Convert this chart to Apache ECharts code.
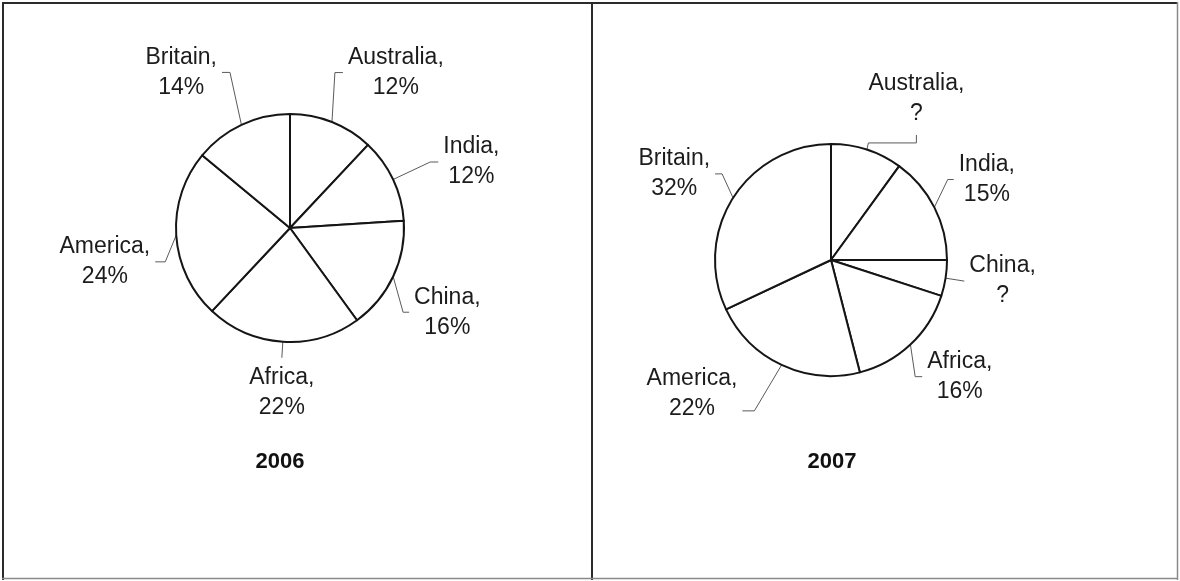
<!DOCTYPE html>
<html>
<head>
<meta charset="utf-8">
<script src="https://cdn.jsdelivr.net/npm/echarts@6.0.0/dist/echarts.min.js"></script>
<style>
html,body{margin:0;padding:0;background:#fff;}
#chart{width:1180px;height:581px;}
</style>
</head>
<body>
<div id="chart"></div>
<script>
// ---- data ----
const categories = ['Australia', 'India', 'China', 'Africa', 'America', 'Britain'];
const values2006 = [12, 12, 16, 22, 24, 14];
// Australia and China are unknown ("?") in the source; sizes
const values2007 = [10, 15, 5, 16, 22, 32];
const shown2007 = ['?', '15%', '?', '16%', '22%', '32%'];
const years = ['2006', '2007'];

// ---- leader-line styling (per category, same order) ----
const leader2006 = [
  { len: 8,  len2: 8,  drop: -42 },
  { len: 41, len2: 8,  drop: 0 },
  { len: 11, len2: 6,  drop: 31 },
  { len: 16, len2: 0,  drop: 0, mode: 'below' },
  { len: 11, len2: 10, drop: 26 },
  { len: 27, len2: 8,  drop: -28 }
];
const leader2007 = [
  { len: 5,  len2: 48, drop: -2, mode: 'above' },
  { len: 15, len2: 6,  drop: -21 },
  { len: 19, len2: 0,  drop: 0 },
  { len: 7,  len2: 7,  drop: 27 },
  { len: 64, len2: 12, drop: -12, ly: -17 },
  { len: 13, len2: 7,  drop: -17 }
];

const FONT = "'Liberation Sans', Arial, Helvetica, sans-serif";
const TEXT_GAP = 5;

function makeLayout(tweaks) {
  return function (p) {
    const t = tweaks[p.dataIndex] || {};
    const pts = p.labelLinePoints;
    if (!pts || pts.length < 3) return {};
    const e = pts[0], m = pts[1], n = pts[2];
    const d = t.drop || 0;
    const m2 = [m[0], m[1] + d];
    const n2 = [n[0], n[1] + d];
    if (t.mode === 'below') {
      return { x: m2[0], y: m2[1] + 5, align: 'center', verticalAlign: 'top', labelLinePoints: [e, m2] };
    }
    if (t.mode === 'above') {
      const s = [n2[0], n2[1] - 8];
      return { x: s[0], y: s[1] - 6, align: 'center', verticalAlign: 'bottom', labelLinePoints: [e, m2, n2, s] };
    }
    const onLeft = p.align === 'right';
    const half = p.labelRect.width / 2;
    const x = onLeft ? n2[0] - TEXT_GAP - half : n2[0] + TEXT_GAP + half;
    return { x: x, y: n2[1] + (t.ly || 0), align: 'center', verticalAlign: 'middle', labelLinePoints: [e, m2, n2] };
  };
}

function pieSeries(center, radius, values, tweaks, formatter) {
  return {
    type: 'pie',
    center: center,
    radius: radius,
    startAngle: 90,
    clockwise: true,
    avoidLabelOverlap: false,
    silent: true,
    animation: false,
    itemStyle: { color: '#ffffff', borderColor: '#151515', borderWidth: 2 },
    emphasis: { disabled: true },
    label: {
      show: true,
      position: 'outside',
      formatter: formatter,
      fontFamily: FONT,
      fontSize: 23,
      lineHeight: 30,
      color: '#1c1c1c'
    },
    labelLine: {
      show: true,
      smooth: false,
      lineStyle: { color: '#5a5a5a', width: 1 }
    },
    labelLayout: makeLayout(tweaks),
    data: categories.map(function (c, i) {
      return {
        name: c,
        value: values[i],
        labelLine: { length: tweaks[i].len, length2: tweaks[i].len2 }
      };
    })
  };
}

const chart = echarts.init(document.getElementById('chart'), null, { renderer: 'canvas' });

const option = {
  backgroundColor: '#ffffff',
  animation: false,
  series: [
    pieSeries([290, 228], 114, values2006, leader2006, function (p) {
      return p.name + ',\n' + p.value + '%';
    }),
    pieSeries([831, 260], 116, values2007, leader2007, function (p) {
      return p.name + ',\n' + shown2007[p.dataIndex];
    })
  ],
  graphic: [
    { type: 'line', shape: { x1: 2, y1: 3, x2: 1178, y2: 3 }, style: { stroke: '#2b2b2b', lineWidth: 2 } },
    { type: 'line', shape: { x1: 3, y1: 2, x2: 3, y2: 580 }, style: { stroke: '#2b2b2b', lineWidth: 2 } },
    { type: 'line', shape: { x1: 592, y1: 2, x2: 592, y2: 580 }, style: { stroke: '#2b2b2b', lineWidth: 2 } },
    { type: 'line', shape: { x1: 1177.5, y1: 2, x2: 1177.5, y2: 580 }, style: { stroke: '#8a8a8a', lineWidth: 1.5 } },
    { type: 'line', shape: { x1: 2, y1: 578.5, x2: 1178, y2: 578.5 }, style: { stroke: '#8a8a8a', lineWidth: 1.5 } },
    { type: 'text', x: 280, y: 462, style: { text: years[0], font: 'bold 22px ' + FONT, fill: '#111', align: 'center', verticalAlign: 'middle' } },
    { type: 'text', x: 832, y: 462, style: { text: years[1], font: 'bold 22px ' + FONT, fill: '#111', align: 'center', verticalAlign: 'middle' } }
  ]
};

chart.setOption(option);
</script>
</body>
</html>
